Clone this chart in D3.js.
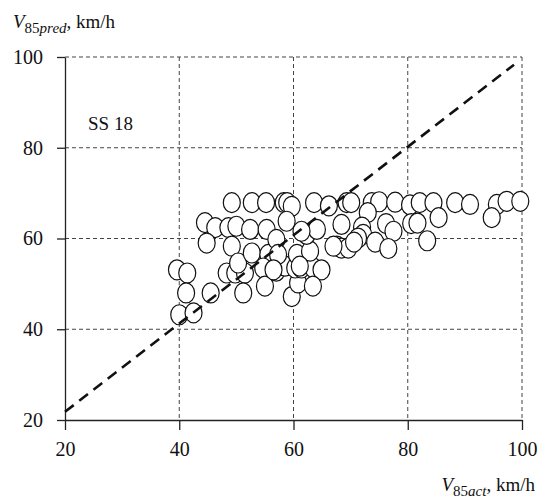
<!DOCTYPE html>
<html>
<head>
<meta charset="utf-8">
<script src="https://cdn.jsdelivr.net/npm/d3@7"></script>
<style>
  body { margin: 0; background: #fff; }
</style>
</head>
<body>
<div id="chart"></div>
<script>
// observed speed (x) and predicted speed (y), km/h
var vAct = [39.6, 41.4, 41.2, 40.0, 42.5, 45.5, 44.5, 46.3, 44.8, 48.6,
            50.0, 49.2, 49.2, 48.3, 49.8, 51.5, 50.3, 51.2, 52.4, 52.7,
            55.2, 55.3, 52.7, 55.6, 57.0, 54.7, 55.0, 57.0, 58.5, 58.3,
            58.9, 59.7, 58.8, 59.7, 60.8, 60.3, 61.4, 63.5, 64.9, 63.4,
            60.6, 62.9, 62.3, 64.1, 61.4, 57.3, 63.6, 66.2, 69.3, 68.4,
            67.6, 68.4, 69.6, 70.1, 73.7, 75.0, 77.8, 80.4, 82.1, 84.5,
            88.3, 90.9, 95.6, 97.3, 99.7, 94.7, 73.0, 72.0, 72.2, 71.3,
            76.2, 77.5, 80.6, 81.7, 85.4, 83.4, 74.3, 76.6, 70.6, 67.0,
            56.5, 61.1];
var vPred = [53.1, 52.4, 48.0, 43.2, 43.6, 48.0, 63.5, 62.4, 59.0, 62.4,
             62.7, 67.9, 58.3, 52.4, 52.4, 52.4, 54.6, 48.0, 62.0, 67.9,
             67.9, 62.0, 56.8, 56.5, 59.8, 53.5, 49.5, 52.8, 53.9, 67.9,
             67.9, 67.1, 63.8, 47.2, 50.2, 53.5, 53.5, 53.5, 53.1, 49.5,
             56.5, 57.2, 60.9, 62.0, 61.6, 56.5, 67.9, 67.2, 67.9, 63.1,
             58.3, 57.9, 57.9, 67.9, 67.9, 68.1, 68.0, 67.4, 67.9, 67.9,
             67.9, 67.5, 67.5, 68.2, 68.2, 64.6, 65.7, 62.5, 60.9, 60.1,
             63.3, 61.6, 63.3, 63.4, 64.6, 59.5, 59.2, 57.8, 59.2, 58.3,
             53.1, 53.9];

// dashed reference line
var diagX = [20, 98.6];
var diagY = [21.8, 98.3];

var xTicks = [20, 40, 60, 80, 100];
var yTicks = [20, 40, 60, 80, 100];
var panelLabel = "SS 18";

var serif = "'Liberation Serif', 'Times New Roman', Times, serif";

var margin = {top: 57, right: 24, bottom: 80, left: 65},
    width = 546 - margin.left - margin.right,
    height = 500 - margin.top - margin.bottom;

var svg = d3.select("#chart").append("svg")
    .attr("width", 546)
    .attr("height", 500)
    .style("font-family", serif);

var g = svg.append("g")
    .attr("transform", "translate(" + margin.left + "," + margin.top + ")");

var x = d3.scaleLinear().domain([20, 100]).range([0, width]);
var y = d3.scaleLinear().domain([20, 100]).range([height, 0]);

// grid lines (dashed), including the top and right border
g.selectAll(".vgrid")
    .data(xTicks.slice(1))
  .enter().append("line")
    .attr("x1", function(d) { return x(d); })
    .attr("x2", function(d) { return x(d); })
    .attr("y1", 0)
    .attr("y2", height)
    .attr("stroke", "#444")
    .attr("stroke-width", 1)
    .attr("stroke-dasharray", "4,3");

g.selectAll(".hgrid")
    .data(yTicks.slice(1))
  .enter().append("line")
    .attr("x1", 0)
    .attr("x2", width)
    .attr("y1", function(d) { return y(d); })
    .attr("y2", function(d) { return y(d); })
    .attr("stroke", "#444")
    .attr("stroke-width", 1)
    .attr("stroke-dasharray", "4,3");

// axes
var xAxis = g.append("g")
    .attr("transform", "translate(0," + height + ")")
    .call(d3.axisBottom(x).tickValues(xTicks).tickSize(10).tickSizeOuter(0).tickPadding(12));
var yAxis = g.append("g")
    .call(d3.axisLeft(y).tickValues(yTicks).tickSize(8).tickSizeOuter(0).tickPadding(14));

[xAxis, yAxis].forEach(function(a) {
  a.attr("font-family", null).attr("font-size", 20);
  a.select(".domain").attr("stroke", "#222").attr("stroke-width", 1.3);
  a.selectAll(".tick line").attr("stroke", "#222").attr("stroke-width", 1.3);
  a.selectAll(".tick text").attr("fill", "#111").style("font-family", serif);
});

// points
g.selectAll(".pt")
    .data(vAct.map(function(d, i) { return {a: d, p: vPred[i]}; }))
  .enter().append("ellipse")
    .attr("cx", function(d) { return x(d.a); })
    .attr("cy", function(d) { return y(d.p); })
    .attr("rx", 8.5)
    .attr("ry", 10)
    .attr("fill", "#fff")
    .attr("stroke", "#111")
    .attr("stroke-width", 1.2);

// diagonal
var line = d3.line()
    .x(function(d) { return x(d[0]); })
    .y(function(d) { return y(d[1]); });
g.append("path")
    .datum(diagX.map(function(d, i) { return [d, diagY[i]]; }))
    .attr("d", line)
    .attr("fill", "none")
    .attr("stroke", "#111")
    .attr("stroke-width", 2.6)
    .attr("stroke-dasharray", "11,7");

g.append("text")
    .attr("x", 23)
    .attr("y", 73)
    .attr("font-size", 19)
    .attr("fill", "#111")
    .style("font-family", serif)
    .text(panelLabel);

// y axis title
var yt = svg.append("text")
    .attr("x", 13)
    .attr("y", 28)
    .attr("fill", "#111")
    .attr("font-size", 19)
    .style("font-family", serif);
yt.append("tspan").attr("font-style", "italic").text("V");
yt.append("tspan").attr("dy", 5).attr("font-size", 15).text("85");
yt.append("tspan").attr("font-size", 15).attr("font-style", "italic").text("pred");
yt.append("tspan").attr("dy", -5).text(", km/h");

// x axis title
var xt = svg.append("text")
    .attr("x", 535)
    .attr("y", 491)
    .attr("fill", "#111")
    .attr("text-anchor", "end")
    .attr("font-size", 19)
    .style("font-family", serif);
xt.append("tspan").attr("font-style", "italic").text("V");
xt.append("tspan").attr("dy", 5).attr("font-size", 15).text("85");
xt.append("tspan").attr("font-size", 15).attr("font-style", "italic").text("act");
xt.append("tspan").attr("dy", -5).text(", km/h");
</script>
</body>
</html>
